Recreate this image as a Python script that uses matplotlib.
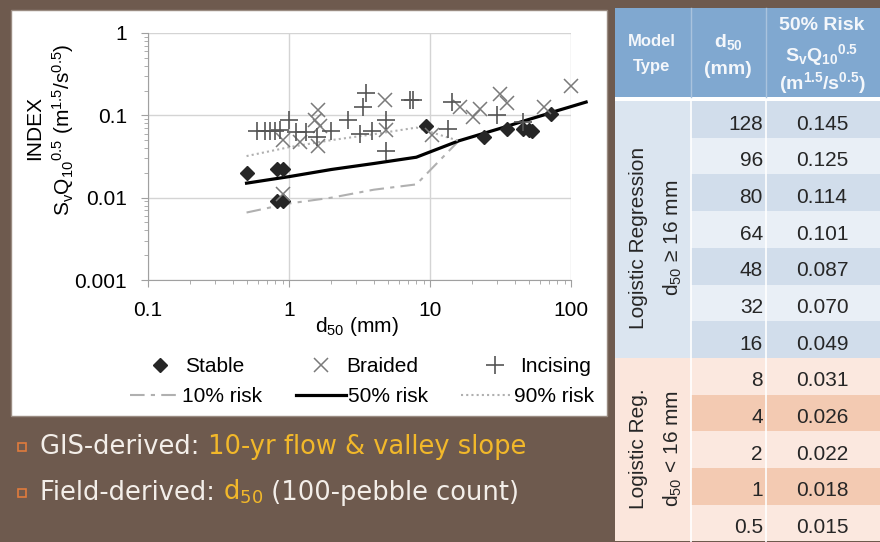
import matplotlib
matplotlib.use("Agg")
import matplotlib.pyplot as plt
from matplotlib.patches import Rectangle
from matplotlib.ticker import LogLocator, NullFormatter

plt.rcParams['font.family'] = ['Liberation Sans', 'DejaVu Sans']
plt.rcParams['mathtext.default'] = 'regular'

# scatter data (d50 in mm, index in m^1.5/s^0.5)
stable_x = [0.5, 0.82, 0.91, 0.82, 0.91, 9.4, 24, 35, 46, 50, 53, 72]
stable_y = [0.020, 0.022, 0.022, 0.009, 0.009, 0.075, 0.055, 0.069, 0.069, 0.066, 0.065, 0.103]

braided_x = [0.91, 1.2, 1.53, 1.6, 1.66, 1.6, 0.91, 4.8, 4.9, 10.3, 16.3, 20.3, 22.6, 31.4, 35, 64.5, 100]
braided_y = [0.050, 0.047, 0.087, 0.117, 0.075, 0.043, 0.011, 0.155, 0.067, 0.057, 0.126, 0.095, 0.120, 0.184,
             0.141, 0.126, 0.226]

incising_x = [0.59, 0.68, 0.73, 0.80, 0.86, 1.0, 1.13, 1.33, 1.57, 2.0, 2.6, 3.36, 3.5, 3.2, 3.86, 4.9, 4.9,
              7.2, 7.6, 14.3, 13.5, 29.7, 46]
incising_y = [0.064, 0.064, 0.064, 0.064, 0.066, 0.087, 0.063, 0.063, 0.054, 0.064, 0.089, 0.126, 0.187, 0.060,
              0.064, 0.089, 0.037, 0.155, 0.155, 0.145, 0.069, 0.100, 0.083]

# risk curves (the 50% one is the table on the right)
table_d50 = [128, 96, 80, 64, 48, 32, 16, 8, 4, 2, 1, 0.5]
table_risk50 = [0.145, 0.125, 0.114, 0.101, 0.087, 0.070, 0.049, 0.031, 0.026, 0.022, 0.018, 0.015]
table_d50_labels = ['128', '96', '80', '64', '48', '32', '16', '8', '4', '2', '1', '0.5']
table_risk50_labels = ['0.145', '0.125', '0.114', '0.101', '0.087', '0.070', '0.049',
                       '0.031', '0.026', '0.022', '0.018', '0.015']

risk10_x = [0.5, 1, 2, 4, 8, 16]
risk10_y = [0.0066, 0.0085, 0.0100, 0.0125, 0.0145, 0.049]
risk90_x = [0.5, 1, 2, 4, 8, 16]
risk90_y = [0.032, 0.041, 0.050, 0.059, 0.071, 0.049]

x_ticks = [0.1, 1, 10, 100]
x_tick_labels = ['0.1', '1', '10', '100']
y_ticks = [0.001, 0.01, 0.1, 1]
y_tick_labels = ['0.001', '0.01', '0.1', '1']

brown = '#6e5a4e'
W, H = 880, 542

fig = plt.figure(figsize=(8.8, 5.42), dpi=100, facecolor=brown)

# background layer in pixel coordinates
bg = fig.add_axes([0, 0, 1, 1], zorder=0)
bg.set_xlim(0, W)
bg.set_ylim(H, 0)
bg.axis('off')
bg.add_patch(Rectangle((11, 10), 596, 406, facecolor='white', edgecolor='#9a8c82', lw=1))

# ---- table ----
tx0, tx1, tx2, tx3 = 615, 691, 766, 882
bg.add_patch(Rectangle((tx0, 8), tx3 - tx0, 89, facecolor='#80a8d0', edgecolor='none'))
for xb in [tx1, tx2]:
    bg.plot([xb, xb], [8, 97], color='#a9c3de', lw=1)
row_top = 101
row_h = 36.7
n_top = 7
bg.add_patch(Rectangle((tx0, 97), tx3 - tx0, 4, facecolor='white', edgecolor='none'))
bg.add_patch(Rectangle((tx0, row_top), tx1 - tx0, row_h * n_top, facecolor='#dbe5f0', edgecolor='none'))
bg.add_patch(Rectangle((tx0, row_top + row_h * n_top), tx1 - tx0, row_h * 5, facecolor='#fbe6dc',
                       edgecolor='none'))
for i, (d, v) in enumerate(zip(table_d50_labels, table_risk50_labels)):
    y0 = row_top + i * row_h
    if i < n_top:
        col = '#d1ddeb' if i % 2 == 0 else '#e9eff6'
    else:
        col = '#fbe8df' if (i - n_top) % 2 == 0 else '#f3cab2'
    bg.add_patch(Rectangle((tx1, y0), tx3 - tx1, row_h, facecolor=col, edgecolor='none'))
    bg.text(tx2 - 3, y0 + 23, d, ha='right', va='center', fontsize=15, color='#262626')
    bg.text(822, y0 + 23, v, ha='center', va='center', fontsize=15, color='#262626')
bg.plot([tx1, tx1], [row_top, H], color='white', lw=1.2)
bg.plot([tx2, tx2], [row_top, H], color='white', lw=1.2)

hdr = '#f4f7fb'
bg.text(652, 42, 'Model', ha='center', va='center', fontsize=12, fontweight='bold', color=hdr)
bg.text(652, 67, 'Type', ha='center', va='center', fontsize=12, fontweight='bold', color=hdr)
bg.text(728, 42, 'd$_{50}$', ha='center', va='center', fontsize=14, fontweight='bold', color=hdr)
bg.text(728, 70, '(mm)', ha='center', va='center', fontsize=14, fontweight='bold', color=hdr)
bg.text(822, 26, '50% Risk', ha='center', va='center', fontsize=14, fontweight='bold', color=hdr)
bg.text(822, 55, 'S$_v$Q$_{10}$$^{0.5}$', ha='center', va='center', fontsize=14, fontweight='bold', color=hdr)
bg.text(822, 83, '(m$^{1.5}$/s$^{0.5}$)', ha='center', va='center', fontsize=14, fontweight='bold', color=hdr)

bg.text(638, 238, 'Logistic Regression', rotation=90, ha='center', va='center', fontsize=15, color='#262626')
bg.text(673, 238, 'd$_{50}$ ≥ 16 mm', rotation=90, ha='center', va='center', fontsize=15, color='#262626')
bg.text(638, 449, 'Logistic Reg.', rotation=90, ha='center', va='center', fontsize=15, color='#262626')
bg.text(673, 449, 'd$_{50}$ < 16 mm', rotation=90, ha='center', va='center', fontsize=15, color='#262626')

# ---- bullets ----
white_txt = '#f3eee9'
yellow_txt = '#f2b82a'
bullet_font = dict(fontsize=18.5, family='DejaVu Sans', va='baseline', ha='left')
for by in [447, 493]:
    bg.add_patch(Rectangle((18, by - 4), 8, 8, facecolor='none', edgecolor='#e07b3c', lw=1.2))


def chain(pieces, x, y):
    prev = None
    for txt, colr in pieces:
        if prev is None:
            prev = bg.text(x, y, txt, color=colr, **bullet_font)
        else:
            prev = bg.annotate(txt, xy=(1, y), xycoords=(prev, 'data'), color=colr, **bullet_font)


chain([('GIS-derived: ', white_txt), ('10-yr flow & valley slope', yellow_txt)], 40, 454)
chain([('Field-derived: ', white_txt), ('d$_{50}$', yellow_txt), (' (100-pebble count)', white_txt)], 40, 500)

# ---- chart ----
ax = fig.add_axes([148 / W, 1 - 280 / H, (571 - 148) / W, (280 - 33) / H], zorder=2)
ax.set_facecolor('none')
ax.set_xscale('log')
ax.set_yscale('log')
ax.set_xlim(0.1, 100)
ax.set_ylim(0.001, 1)

l10, = ax.plot(risk10_x, risk10_y, color='#b0b0b0', lw=1.5, dashes=(7, 3, 2, 3), label='10% risk')
l50, = ax.plot(table_d50, table_risk50, color='black', lw=2.3, label='50% risk', clip_on=False)
l90, = ax.plot(risk90_x, risk90_y, color='#b0b0b0', lw=1.5, linestyle=(0, (1, 1.5)), label='90% risk')
hs, = ax.plot(stable_x, stable_y, linestyle='none', marker='D', ms=7, color='#262626', label='Stable',
              clip_on=False)
hb, = ax.plot(braided_x, braided_y, linestyle='none', marker='x', ms=10, mew=1.1, color='#7a7a7a',
              label='Braided', clip_on=False)
hi, = ax.plot(incising_x, incising_y, linestyle='none', marker='+', ms=13, mew=1.2, color='#555555',
              label='Incising', clip_on=False)

ax.set_xticks(x_ticks, labels=x_tick_labels)
ax.set_yticks(y_ticks, labels=y_tick_labels)
ax.xaxis.set_minor_locator(LogLocator(base=10, subs=range(2, 10)))
ax.yaxis.set_minor_locator(LogLocator(base=10, subs=range(2, 10)))
ax.xaxis.set_minor_formatter(NullFormatter())
ax.yaxis.set_minor_formatter(NullFormatter())
ax.tick_params(which='major', length=5, color='#a0a0a0', labelsize=15, pad=10)
ax.tick_params(which='minor', length=3, color='#a0a0a0')
ax.grid(True, which='major', color='#d4d4d4', lw=1)
for s in ['top', 'right']:
    ax.spines[s].set_visible(False)
for s in ['left', 'bottom']:
    ax.spines[s].set_color('#a0a0a0')

fig.text(357 / W, 1 - 326 / H, 'd$_{50}$ (mm)', ha='center', va='center', fontsize=15)
fig.text(35 / W, 1 - 128 / H, 'INDEX', rotation=90, ha='center', va='center', fontsize=15)
fig.text(63 / W, 1 - 130 / H, 'S$_v$Q$_{10}$$^{0.5}$ (m$^{1.5}$/s$^{0.5}$)', rotation=90,
         ha='center', va='center', fontsize=15)

fig.legend(handles=[hs, hb, hi], loc='center', bbox_to_anchor=(370 / W, 1 - 367 / H), ncol=3,
           frameon=False, fontsize=15, handlelength=1.0, handletextpad=0.7, columnspacing=3.2,
           borderpad=0)
fig.legend(handles=[l10, l50, l90], loc='center', bbox_to_anchor=(362 / W, 1 - 397 / H), ncol=3,
           frameon=False, fontsize=15, handlelength=2.4, handletextpad=0.1, columnspacing=1.6,
           borderpad=0)

fig.savefig('out.png', dpi=100, facecolor=brown)
